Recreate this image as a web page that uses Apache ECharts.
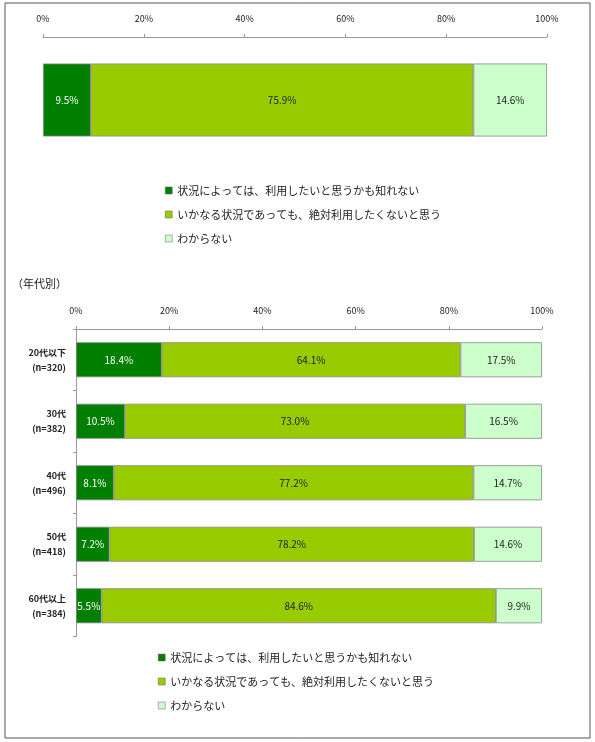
<!DOCTYPE html>
<html><head><meta charset="utf-8">
<script src="https://cdn.jsdelivr.net/npm/echarts@6/dist/echarts.min.js"></script>
<style>html,body{margin:0;padding:0;background:#fff}#c{width:595px;height:742px}</style>
</head><body><div id="c"></div>
<script>
const seriesNames = ['状況によっては、利用したいと思うかも知れない','いかなる状況であっても、絶対利用したくないと思う','わからない'];
const totalValues = [9.5, 75.9, 14.6];
const ageCategories = ['20代以下\n(n=320)','30代\n(n=382)','40代\n(n=496)','50代\n(n=418)','60代以上\n(n=384)'];
const ageYes = [18.4, 10.5, 8.1, 7.2, 5.5];
const ageNo = [64.1, 73.0, 77.2, 78.2, 84.6];
const ageUnknown = [17.5, 16.5, 14.7, 14.6, 9.9];
const xTicks = [0, 20, 40, 60, 80, 100];
const colors = ['#007f00', '#99cc00', '#ccffcc'];
const labelColors = ['#fff', '#222', '#222'];
const font = 'Noto Sans CJK JP';

const chart = echarts.init(document.getElementById('c'));
const xAx = (gi) => ({
  gridIndex: gi, type: 'value', min: 0, max: 100, interval: 20, position: 'top',
  axisLine: {show: true, lineStyle: {color: '#999', width: 1}},
  axisTick: {show: true, length: 3, inside: false, lineStyle: {color: '#999'}},
  splitLine: {show: false},
  axisLabel: {formatter: v => v + '%', fontSize: 9, color: '#222', fontFamily: font, margin: 14}
});
const mk = (i, gi, data) => ({
  name: seriesNames[i], type: 'bar', stack: 's' + gi, xAxisIndex: gi, yAxisIndex: gi,
  data: data, barWidth: gi === 0 ? 73 : 35,
  itemStyle: {color: colors[i], borderColor: '#888', borderWidth: 0.8},
  label: {show: true, position: 'inside', formatter: p => p.value.toFixed(1) + '%', color: labelColors[i], fontSize: 10, fontFamily: font}
});
const legend = (top, left) => ({
  data: seriesNames, orient: 'vertical', left: left, top: top, itemWidth: 7, itemHeight: 7, itemGap: 13,
  icon: 'rect', textStyle: {fontSize: 11, color: '#222', fontFamily: font}, selectedMode: false,
  itemStyle: {borderColor: '#666', borderWidth: 0.5}
});
chart.setOption({
  animation: false,
  grid: [
    {left: 43, right: 48, top: 37, height: 126},
    {left: 76, right: 53, top: 329, height: 307.5}
  ],
  xAxis: [xAx(0), xAx(1)],
  yAxis: [
    {gridIndex: 0, type: 'category', data: ['全体'], axisLine: {show: false}, axisTick: {show: false}, axisLabel: {show: false}},
    {gridIndex: 1, type: 'category', data: ageCategories, inverse: true,
     axisLine: {show: true, lineStyle: {color: '#999'}}, axisTick: {show: true, length: 3, lineStyle: {color: '#999'}},
     axisLabel: {fontSize: 9, color: '#222', fontFamily: font, lineHeight: 15, margin: 10, fontWeight: 'bold'}}
  ],
  legend: [legend(180, 160), legend(647, 153)],
  graphic: [
    {type: 'rect', shape: {x: 5, y: 3, width: 585, height: 735}, style: {fill: 'none', stroke: '#555', lineWidth: 1}},
    {type: 'text', left: 12, top: 278, style: {text: '（年代別）', fontSize: 11, fill: '#222', fontFamily: font}}
  ],
  series: [
    mk(0, 0, [totalValues[0]]), mk(1, 0, [totalValues[1]]), mk(2, 0, [totalValues[2]]),
    mk(0, 1, ageYes), mk(1, 1, ageNo), mk(2, 1, ageUnknown)
  ]
});
</script></body></html>
